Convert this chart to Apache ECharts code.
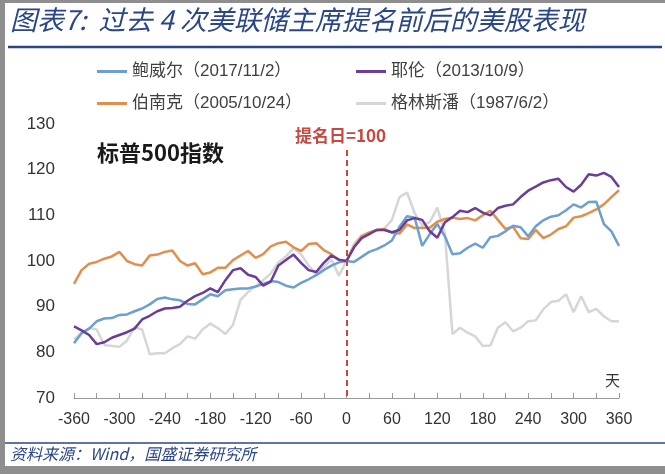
<!DOCTYPE html>
<html>
<head>
<meta charset="utf-8">
<script src="https://cdn.jsdelivr.net/npm/echarts@6/dist/echarts.min.js"></script>
<style>
  html, body { margin: 0; padding: 0; background: #fff; }
  #chart { width: 665px; height: 474px; }
</style>
</head>
<body>
<div id="chart"></div>
<script>
  // 提名日前后天数（每 10 天一个点）
  const days = []
  for (let d = -360; d <= 360; d += 10) days.push(d)

  const powell = [
    82, 84.2, 85.2, 86.8, 87.4, 87.5, 88.2, 88.3, 89, 89.6, 90.5, 91.7, 92, 91.6, 91.4, 90.6, 90.5, 91.6, 92.7,
    92.3, 93.6, 93.8, 94, 94, 94.4, 95, 95.6, 95.4, 94.6, 94.2, 95.2, 96, 96.9, 98, 99, 99.7,
    100,
    99.8, 100.9, 102, 102.6, 103.4, 104.5, 107.5, 109.8, 109.5, 103.3, 105.9, 108.1, 105.4, 101.5, 101.7, 102.9,
    103.8, 102.9, 105.2, 105.5, 106.5, 107.7, 107.4, 105.4, 107.6, 108.9, 109.7, 110, 111.1, 112.4, 111.7, 112.9,
    113, 108.1, 106.5, 103.3
  ]
  const yellen = [
    85.7, 84.8, 83.8, 81.8, 82.2, 83.2, 83.8, 84.4, 85.2, 87.2, 88, 89, 89.6, 89.7, 90, 91.3, 92.3, 93, 94,
    93.2, 95.8, 98, 98.4, 97, 96.5, 94.6, 95.5, 99, 100.2, 101.4, 99.6, 98, 97.6, 99.6, 101.2, 100.3,
    100,
    103, 105, 105.9, 106.8, 106.8, 106.3, 106.8, 108.9, 109.4, 109, 106.5, 105.1, 108.5, 109.6, 111, 110.7,
    111.6, 110.6, 110, 111.6, 112.1, 112.4, 114, 115.4, 116.3, 117.2, 117.7, 118, 116.2, 115.2, 116.7, 119,
    118.7, 119.3, 118.4, 116.2
  ]
  const bernanke = [
    95, 98, 99.4, 99.8, 100.5, 101, 102, 100, 99.3, 99, 101.2, 101.4, 102, 102.3, 100, 99, 99.5, 97.1, 97.5,
    98.5, 98.5, 100.2, 101.2, 102.2, 100.7, 101.5, 103.2, 103.9, 104.2, 103, 102.2, 103.7, 103.9, 102.4, 101.5, 100.2,
    100,
    103.2, 105.4, 106.2, 106.8, 107, 106.2, 106, 108, 107.2, 107.3, 107.3, 108.6, 109.2, 109.5, 109.2, 109.4,
    108.9, 110, 111, 109, 107, 107.5, 105, 104.8, 106.8, 105, 105.8, 107, 107.6, 109.5, 109.8, 110.5,
    111.3, 112.4, 114, 115.5
  ]
  const greenspan = [
    82.8, 84.3, 85.3, 85, 81.6, 81.4, 81.2, 82.6, 85.5, 85, 79.6, 79.8, 79.8, 80.9, 81.8, 83.5, 83, 85, 86.3,
    85.3, 84, 86, 91.5, 93.2, 94.5, 95.8, 97.3, 99.7, 101, 102.8, 101.5, 99, 97.2, 98.7, 100.3, 96.8,
    100,
    103.8, 105.6, 106.3, 106.6, 107.1, 109, 114, 115, 110.5, 107.8, 108.5, 111.7, 106, 84, 85.4, 84.3,
    83.5, 81.4, 81.5, 85.4, 86.6, 84.6, 85.4, 86.8, 87, 89.4, 91, 91.3, 92.7, 88.8, 92.3, 88.8,
    89.5, 87.9, 86.8, 86.8
  ]

  const names = ['鲍威尔（2017/11/2）', '耶伦（2013/10/9）', '伯南克（2005/10/24）', '格林斯潘（1987/6/2）']
  const colors = ['#6d9fcf', '#6a3d9a', '#e08f4c', '#d6d6d6']

  const chart = echarts.init(document.getElementById('chart'))

  const pair = vals => days.map((d, i) => [d, vals[i]])
  const navy = '#2a4689'
  const font = '"Liberation Sans", "Noto Sans CJK SC", sans-serif'

  function legendAt(name, left, top) {
    return {
      data: [name],
      left,
      top,
      icon: 'rect',
      itemWidth: 30,
      itemHeight: 3,
      itemGap: 0,
      textStyle: { fontSize: 17, color: '#404040', fontFamily: font }
    }
  }

  function line(name, vals, color, z) {
    return {
      name,
      type: 'line',
      data: pair(vals),
      showSymbol: false,
      symbol: 'none',
      z,
      lineStyle: { color, width: 2.5 },
      itemStyle: { color }
    }
  }

  const option = {
    animation: false,
    backgroundColor: '#fff',
    legend: [
      legendAt(names[0], 92, 58),
      legendAt(names[1], 351, 58),
      legendAt(names[2], 92, 90),
      legendAt(names[3], 351, 90)
    ],
    grid: { left: 74, right: 46, top: 124, bottom: 76 },
    xAxis: {
      type: 'value',
      min: -360,
      max: 360,
      interval: 30,
      axisLine: { lineStyle: { color: '#999', width: 1 } },
      axisTick: { inside: true, length: 5, lineStyle: { color: '#999' } },
      splitLine: { show: false },
      axisLabel: {
        margin: 14,
        fontSize: 16,
        color: '#333',
        fontFamily: font,
        formatter: v => (v % 60 === 0 ? String(v) : '')
      }
    },
    yAxis: {
      type: 'value',
      min: 70,
      max: 130,
      interval: 10,
      axisLine: { show: false },
      axisTick: { show: false },
      splitLine: { show: false },
      axisLabel: { margin: 19, fontSize: 17, color: '#333', fontFamily: font }
    },
    series: [
      line(names[3], greenspan, colors[3], 1),
      line(names[2], bernanke, colors[2], 2),
      line(names[0], powell, colors[0], 3),
      Object.assign(line(names[1], yellen, colors[1], 4), {
        markLine: {
          silent: true,
          symbol: 'none',
          label: { show: false },
          lineStyle: { color: '#c8473e', type: [6, 4], width: 2 },
          data: [[{ coord: [0, 124.3] }, { coord: [0, 70] }]]
        }
      })
    ],
    graphic: [
      // 外框灰边
      { type: 'rect', shape: { x: 0, y: 0, width: 665, height: 3 }, style: { fill: '#8e8e8e' }, silent: true },
      { type: 'rect', shape: { x: 0, y: 0, width: 5, height: 474 }, style: { fill: '#8e8e8e' }, silent: true },
      { type: 'rect', shape: { x: 0, y: 466, width: 665, height: 8 }, style: { fill: '#8e8e8e' }, silent: true },
      {
        type: 'text', left: 10, top: 6,
        style: {
          text: '图表7:  过去 4 次美联储主席提名前后的美股表现',
          font: 'italic 27px "Noto Sans CJK SC", sans-serif',
          fill: navy
        }
      },
      { type: 'line', shape: { x1: 8, y1: 47, x2: 662, y2: 47 }, style: { stroke: navy, lineWidth: 2.5 } },
      { type: 'line', shape: { x1: 5, y1: 443, x2: 665, y2: 443 }, style: { stroke: navy, lineWidth: 1.5 } },
      {
        type: 'text', left: 10, top: 446,
        style: {
          text: '资料来源：Wind，国盛证券研究所',
          font: 'italic 16px "Noto Sans CJK SC", sans-serif',
          fill: navy
        }
      },
      {
        type: 'text', left: 97, top: 142,
        style: { text: '标普500指数', font: 'bold 22px "Noto Sans CJK SC", sans-serif', fill: '#1a1a1a' }
      },
      {
        type: 'text', left: 295, top: 127,
        style: { text: '提名日=100', font: 'bold 17px "Noto Sans CJK SC", sans-serif', fill: '#c8473e' }
      },
      {
        type: 'text', left: 605, top: 373,
        style: { text: '天', font: '15px "Noto Sans CJK SC", sans-serif', fill: '#333' }
      }
    ]
  }

  chart.setOption(option)
</script>
</body>
</html>
